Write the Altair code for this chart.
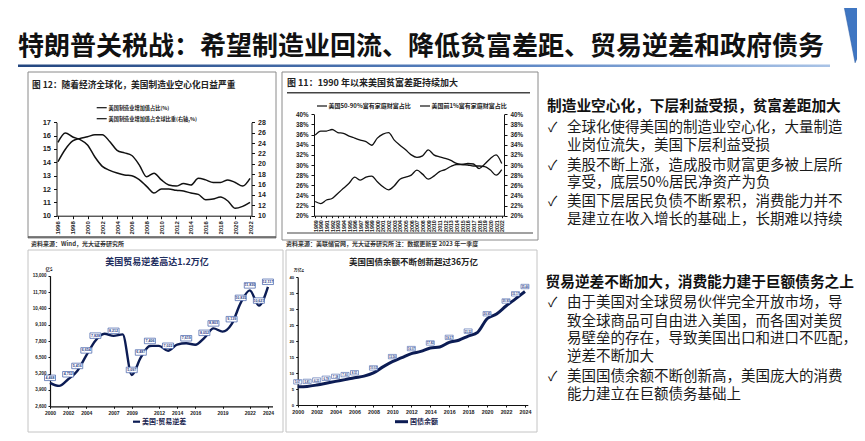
import altair as alt
import pandas as pd

CJK = "Noto Sans CJK SC"
NUM = "Liberation Sans"
W, H = 849, 425

# ---------------- data ----------------
years1 = list(range(1996, 2023))
mfg_gdp_share = [15.5, 16.2, 15.9, 15.7, 15.3, 14.4, 13.7, 13.4, 13.2, 13.05, 13.0, 12.7, 12.2, 11.7,
                 12.0, 12.0, 11.9, 11.85, 11.7, 11.6, 11.2, 11.25, 11.4, 11.1, 10.55, 10.7, 11.0]
mfg_world_share = [20.4, 22.8, 24.4, 24.9, 25.2, 25.6, 25.6, 24.3, 22.6, 22.1, 21.6, 19.8, 17.5, 18.2,
                   16.9, 15.9, 15.7, 16.2, 15.9, 17.2, 16.9, 16.4, 16.4, 16.9, 16.4, 15.7, 17.2]

years2 = list(range(1989, 2023))
wealth_50_90 = [35.9, 36.7, 36.7, 37.0, 36.4, 36.25, 35.7, 35.3, 34.9, 34.6, 33.9, 35.3, 36.1, 36.4,
                34.9, 33.9, 33.0, 32.0, 31.5, 31.8, 33.0, 32.0, 31.6, 31.3, 30.9, 30.3, 30.1, 30.0,
                29.8, 29.8, 29.7, 29.0, 28.0, 29.1]
wealth_top1 = [22.8, 22.4, 23.1, 23.4, 24.4, 25.4, 26.4, 27.6, 27.0, 27.6, 27.8, 26.7, 25.7, 25.1,
               25.9, 27.2, 27.6, 28.0, 29.0, 28.2, 27.2, 27.8, 28.7, 29.1, 29.7, 30.1, 30.1, 30.3,
               30.2, 29.3, 30.2, 31.3, 32.0, 30.3]

years3 = list(range(2000, 2025))
trade_deficit = [4468, 4224, 4752, 5416, 6654, 7828, 8373, 8212, 8325, 5097, 6487, 7406, 7411,
                 7022, 7515, 7619, 7498, 8052, 8803, 8544, 9139, 10835, 11830, 10621, 12117]
deficit_labeled = [2000, 2002, 2003, 2004, 2005, 2007, 2009, 2010, 2011, 2013, 2015, 2017, 2018,
                   2020, 2021, 2022, 2023, 2024]

years4 = list(range(2000, 2025))
federal_debt = [5.67, 5.81, 6.23, 6.78, 7.38, 7.93, 8.51, 9.01, 10.02, 11.91, 13.56, 14.79, 16.07,
                16.74, 17.82, 18.15, 19.57, 20.24, 21.52, 22.72, 26.95, 28.43, 30.93, 33.17, 35.46]
debt_labeled = [2000, 2001, 2002, 2003, 2004, 2005, 2006, 2008, 2010, 2012, 2014, 2016, 2018,
                2020, 2022, 2023, 2024]

title_text = "特朗普关税战：希望制造业回流、降低贫富差距、贸易逆差和政府债务"
c1_title = "图 12：随着经济全球化，美国制造业空心化日益严重"
c1_leg = ["美国制造业增加值占比(%)", "美国制造业增加值占全球比重(右轴,%)"]
c1_src = "资料来源：Wind，光大证券研究所"
c2_title = "图 11：1990 年以来美国贫富差距持续加大"
c2_leg = ["美国50-90%富有家庭财富占比", "美国前1%富有家庭财富占比"]
c2_src = "资料来源：美联储官网，光大证券研究所  注：数据更新至 2023 年一季度"
c3_title = "美国贸易逆差高达1.2万亿"
c3_unit = "亿$"
c3_leg = "美国:贸易逆差"
c4_title = "美国国债余额不断创新超过36万亿"
c4_unit = "万亿$"
c4_leg = "国债余额"

head1 = "制造业空心化，下层利益受损，贫富差距加大"
body1 = ["全球化使得美国的制造业空心化，大量制造", "业岗位流失，美国下层利益受损",
         "美股不断上涨，造成股市财富更多被上层所", "享受，底层50%居民净资产为负",
         "美国下层居民负债不断累积，消费能力并不", "是建立在收入增长的基础上，长期难以持续"]
head2 = "贸易逆差不断加大，消费能力建于巨额债务之上"
body2 = ["由于美国对全球贸易伙伴完全开放市场，导", "致全球商品可自由进入美国，而各国对美贸",
         "易壁垒的存在，导致美国出口和进口不匹配，", "逆差不断加大",
         "美国国债余额不断创新高，美国庞大的消费", "能力建立在巨额债务基础上"]

# ---------------- helpers ----------------
base = pd.DataFrame({"k": [0]})


def txt(s, x, y, size, weight="normal", color="#222", align="left", font=CJK):
    return alt.Chart(base).mark_text(
        text=s, align=align, baseline="middle", fontSize=size, fontWeight=weight,
        color=color, font=font, clip=True
    ).encode(x=alt.value(x), y=alt.value(y))


def rule(x1, x2, y, color="#111", w=1.0):
    return alt.Chart(base).mark_rule(color=color, strokeWidth=w).encode(
        x=alt.value(x1), x2=alt.value(x2), y=alt.value(y))


def frame(x1, y1, x2, y2, color="#999", w=1.0):
    return alt.Chart(base).mark_rect(fill="white", fillOpacity=0, stroke=color, strokeWidth=w).encode(
        x=alt.value(x1), x2=alt.value(x2), y=alt.value(y1), y2=alt.value(y2))


def ax(orient, offset, values, size=7, angle=0, fmt=None, expr=None, color="#222",
       dcolor="#111", tick=3, pad=2, dw=1.0):
    kw = dict(orient=orient, offset=offset, values=values, title=None, grid=False,
              labelFont=NUM, labelFontSize=size, labelFontWeight="bold", labelColor=color,
              domainColor=dcolor, domainWidth=dw, tickColor=dcolor, tickSize=tick,
              labelPadding=pad, labelOverlap=False, labelFlush=False, labelAngle=angle)
    if fmt:
        kw["format"] = fmt
    if expr:
        kw["labelExpr"] = expr
    return alt.Axis(**kw)


def sc(domain, rng):
    return alt.Scale(domain=domain, range=rng, nice=False, zero=False)


layers = []

# ---------------- slide title ----------------
layers.append(txt(title_text, 10, 39, 26, "bold", "#111"))
layers.append(alt.Chart(base).mark_rect(
    fill=alt.Gradient(gradient="linear", x1=0, x2=1, y1=0, y2=0,
                      stops=[alt.GradientStop(color="#23467f", offset=0),
                             alt.GradientStop(color="#5b85c4", offset=0.6),
                             alt.GradientStop(color="#a9c3e6", offset=1)])
).encode(x=alt.value(10), x2=alt.value(822), y=alt.value(56.5), y2=alt.value(59)))
layers.append(alt.Chart(base).mark_point(
    shape="M-1,-2.8L1,-2.8L1,-0.6Q0.7,1.6 0.1,2.8Q-0.4,0.2 -1,-2.8Z", size=484,
    filled=True, fill="#3f76c2", stroke="#2c5aa0", strokeWidth=0.5, opacity=1
).encode(x=alt.value(846), y=alt.value(24)))

# ---------------- chart 1 ----------------
layers.append(frame(20, 64, 268, 230, "#8a8a8a", 1))
layers.append(rule(20, 268, 229, "#555", 1.5))
layers.append(txt(c1_title, 24, 77, 8.7, "bold", "#222"))
layers.append(rule(88.7, 98.7, 99.7, "#111", 1.2))
layers.append(txt(c1_leg[0], 100.5, 99.7, 5.2, "bold", "#222"))
layers.append(rule(88.7, 98.7, 110.7, "#111", 1.2))
layers.append(txt(c1_leg[1], 100.5, 110.7, 5.2, "bold", "#222"))
layers.append(txt(c1_src, 23, 236, 6, "bold", "#333"))

df1 = pd.DataFrame({"year": years1, "gdp": mfg_gdp_share, "world": mfg_world_share})
x1 = sc([1995.8, 2022.2], [48.5, 243.5])
layers.append(alt.Chart(df1).mark_line(color="#111", strokeWidth=1.5, interpolate="monotone").encode(
    x=alt.X("year:Q", scale=x1,
            axis=ax("bottom", 207.7 - H, list(range(1996, 2023, 2)), 6, 270, fmt="d", pad=2)),
    y=alt.Y("gdp:Q", scale=sc([10, 17], [207.7, 114.3]),
            axis=ax("left", -48.5, list(range(10, 18)), 7.5, fmt="d", pad=3))))
layers.append(alt.Chart(df1).mark_line(color="#111", strokeWidth=1.5, interpolate="monotone").encode(
    x=alt.X("year:Q", scale=x1, axis=None),
    y=alt.Y("world:Q", scale=sc([10, 28], [207.7, 114.3]),
            axis=ax("right", 243.5 - W, list(range(10, 29, 2)), 7, fmt="d", pad=3))))

# ---------------- chart 2 ----------------
layers.append(frame(274, 64, 530, 232, "#8a8a8a", 1))
layers.append(txt(c2_title, 279, 74.7, 9, "bold", "#222"))
layers.append(rule(279, 522, 84.7, "#444", 1.5))
layers.append(rule(279, 525, 225, "#444", 1.2))
layers.append(rule(309, 319, 98, "#111", 1.2))
layers.append(txt(c2_leg[0], 320.5, 98, 6, "bold", "#222"))
layers.append(rule(412, 422, 98, "#111", 1.2))
layers.append(txt(c2_leg[1], 423.5, 98, 6, "bold", "#222"))
layers.append(txt(c2_src, 278, 236, 6, "bold", "#333"))

df2 = pd.DataFrame({"year": years2, "mid": wealth_50_90, "top": wealth_top1})
x2 = sc([1988.8, 2022.4], [306, 496])
pct = "datum.value + '%'"
layers.append(alt.Chart(df2).mark_line(color="#111", strokeWidth=1.3, interpolate="monotone").encode(
    x=alt.X("year:Q", scale=x2,
            axis=ax("bottom", 207.7 - H, years2, 5.3, 270, fmt="d", pad=2, tick=2)),
    y=alt.Y("mid:Q", scale=sc([20, 40], [207.7, 106.3]),
            axis=ax("left", -306, list(range(20, 41, 2)), 6.3, expr=pct, pad=3))))
layers.append(alt.Chart(df2).mark_line(color="#111", strokeWidth=1.3, interpolate="monotone").encode(
    x=alt.X("year:Q", scale=x2, axis=None),
    y=alt.Y("top:Q", scale=sc([20, 40], [207.7, 106.3]),
            axis=ax("right", 496 - W, list(range(20, 41, 2)), 6.3, expr=pct, pad=3))))

# ---------------- chart 3 ----------------
NAVY = "#0c1c54"
LBL = "#1f3c88"
layers.append(frame(20, 242, 275, 424, "#c4c4c4", 1))
layers.append(txt(c3_title, 149, 253.7, 9, "bold", "#1d2d5e", "center"))
layers.append(txt(c3_unit, 41, 262, 4.5, "bold", "#222", "center"))
layers.append(rule(125, 132, 413.7, NAVY, 2.2))
layers.append(txt(c3_leg, 134, 413.7, 7, "bold", "#1a2550"))

df3 = pd.DataFrame({"year": years3, "v": trade_deficit})
df3l = df3[df3["year"].isin(deficit_labeled)]
x3 = sc([2000, 2024.5], [42, 264.5])
y3 = sc([2600, 13000], [398.3, 267.7])
layers.append(alt.Chart(df3).mark_line(color=NAVY, strokeWidth=2.4, interpolate="monotone").encode(
    x=alt.X("year:Q", scale=x3,
            axis=ax("bottom", 398.3 - H, [2000, 2002, 2004, 2007, 2009, 2012, 2014, 2016, 2019, 2022, 2024],
                    5, fmt="d", tick=2, pad=2, dw=1.2)),
    y=alt.Y("v:Q", scale=y3,
            axis=ax("left", -42, list(range(2600, 13001, 1300)), 4.5, fmt=",d", tick=2, pad=2, dw=1.2))))
layers.append(alt.Chart(df3l).mark_point(
    shape="M-1,-0.5H1V0.5H-1Z", size=121, filled=True, fill="white", stroke="#3c5aa6",
    strokeWidth=0.7, opacity=1, yOffset=-5
).encode(x=alt.X("year:Q", scale=x3, axis=None), y=alt.Y("v:Q", scale=y3, axis=None)))
layers.append(alt.Chart(df3l).mark_text(
    dy=-5, fontSize=3.6, font=NUM, fontWeight="bold", color=LBL
).encode(x=alt.X("year:Q", scale=x3, axis=None), y=alt.Y("v:Q", scale=y3, axis=None),
         text=alt.Text("v:Q", format=",d")))

# ---------------- chart 4 ----------------
layers.append(frame(278, 242, 529, 424, "#c4c4c4", 1))
layers.append(txt(c4_title, 405.5, 253.7, 8.5, "bold", "#222", "center"))
layers.append(txt(c4_unit, 291, 262.7, 4, "bold", "#222", "center"))
layers.append(rule(387, 400, 413.7, NAVY, 3))
layers.append(txt(c4_leg, 402, 413.7, 7, "bold", "#1a2550"))

df4 = pd.DataFrame({"year": years4, "v": federal_debt})
df4l = df4[df4["year"].isin(debt_labeled)]
x4 = sc([2000, 2024.3], [289.7, 519.8])
y4 = sc([0, 40], [397, 269])
layers.append(alt.Chart(df4).mark_line(color=NAVY, strokeWidth=3, interpolate="monotone").encode(
    x=alt.X("year:Q", scale=x4,
            axis=ax("bottom", 397 - H, list(range(2000, 2025, 2)), 5.3, fmt="d", tick=2, pad=2, dw=1.2)),
    y=alt.Y("v:Q", scale=y4,
            axis=ax("left", -289.7, list(range(0, 41, 5)), 4.2, fmt="d", tick=2, pad=2, dw=1.2))))
layers.append(alt.Chart(df4l).mark_point(
    shape="M-1,-0.55H1V0.55H-1Z", size=64, filled=True, fill="white", stroke="#3c5aa6",
    strokeWidth=0.6, opacity=1, yOffset=-5
).encode(x=alt.X("year:Q", scale=x4, axis=None), y=alt.Y("v:Q", scale=y4, axis=None)))
layers.append(alt.Chart(df4l).mark_text(
    dy=-5, fontSize=2.8, font=NUM, fontWeight="bold", color=LBL
).encode(x=alt.X("year:Q", scale=x4, axis=None), y=alt.Y("v:Q", scale=y4, axis=None),
         text=alt.Text("v:Q", format=".2f")))

# ---------------- right text panel ----------------
BODY = 14.5
layers.append(txt(head1, 539, 98.7, 14.7, "bold", "#111"))
ys1 = [119.7, 138, 158, 175.3, 194.3, 212]
for i, (s, y) in enumerate(zip(body1, ys1)):
    if i % 2 == 0:
        layers.append(txt("✓", 540, y, 13.5, "normal", "#111"))
    layers.append(txt(s, 559, y, BODY, "normal", "#1a1a1a"))

layers.append(txt(head2, 537.5, 275.3, 14.7, "bold", "#111"))
ys2 = [295.3, 313.7, 331.3, 349.3, 368.7, 387]
for i, (s, y) in enumerate(zip(body2, ys2)):
    if i in (0, 4):
        layers.append(txt("✓", 540, y, 13.5, "normal", "#111"))
    layers.append(txt(s, 559, y, BODY, "normal", "#1a1a1a"))

chart = alt.layer(*layers).resolve_scale(x="independent", y="independent").properties(
    width=W, height=H, padding=0, autosize=alt.AutoSizeParams(type="none"),
    background="white"
).configure_view(strokeWidth=0)

chart.save("out.html", embed_options={"renderer": "svg", "actions": False})
